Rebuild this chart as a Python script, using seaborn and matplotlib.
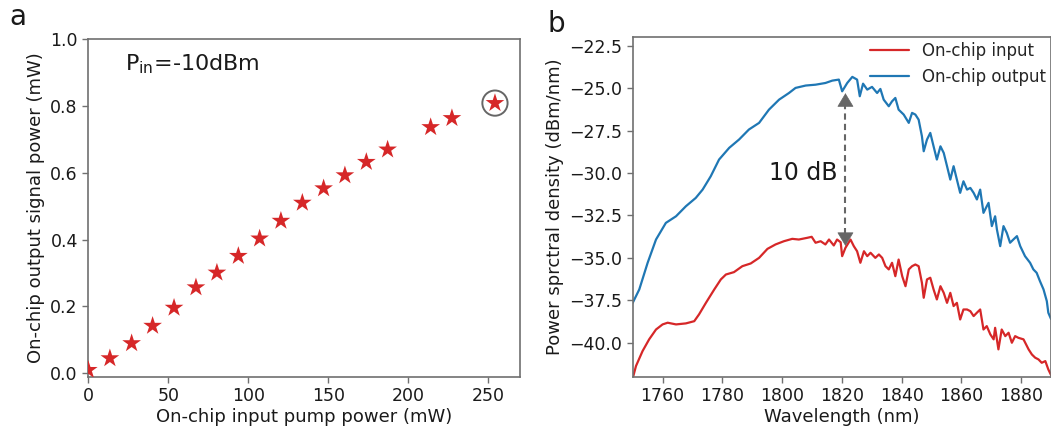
import numpy as np
import pandas as pd
import matplotlib
matplotlib.use("Agg")
import matplotlib.pyplot as plt
import seaborn as sns

# ---------------- Data ----------------
pump_power = [0.0, 13.5, 27.1, 40.2, 53.6, 67.3, 80.4, 93.8, 107.1, 120.4,
              133.8, 147.1, 160.4, 173.8, 187.1, 214.0, 227.3, 254.2]
signal_power = [0.010, 0.045, 0.090, 0.142, 0.196, 0.257, 0.301, 0.351, 0.403, 0.456,
                0.510, 0.553, 0.592, 0.632, 0.669, 0.736, 0.763, 0.808]

wl_out = [1750.0, 1752.2, 1755.0, 1757.8, 1761.1, 1764.5, 1767.8, 1771.1, 1773.4, 1776.1,
          1778.9, 1782.3, 1785.6, 1788.9, 1792.3, 1795.6, 1799.0, 1802.3, 1804.5, 1807.9,
          1811.2, 1814.5, 1816.8, 1819.0, 1820.1, 1821.8, 1823.5, 1825.1, 1826.0, 1827.1,
          1828.5, 1830.1, 1831.8, 1832.9, 1834.0, 1835.7, 1836.8, 1837.9, 1839.0, 1840.7,
          1842.4, 1843.5, 1844.6, 1845.7, 1846.8, 1847.4, 1848.5, 1849.6, 1850.7, 1851.8,
          1853.0, 1854.1, 1855.2, 1856.3, 1857.4, 1858.5, 1859.6, 1860.7, 1861.9, 1863.0,
          1864.1, 1865.2, 1866.3, 1867.4, 1868.5, 1869.1, 1870.2, 1871.3, 1871.9, 1873.0,
          1874.1, 1875.2, 1876.3, 1877.4, 1878.6, 1879.7, 1881.3, 1883.0, 1884.1, 1885.2,
          1886.3, 1887.5, 1888.6, 1889.1, 1890.0]
psd_out = [-37.65, -36.86, -35.29, -33.92, -32.94, -32.55, -31.96, -31.47, -30.98, -30.20,
           -29.21, -28.52, -28.03, -27.44, -27.05, -26.27, -25.68, -25.29, -24.99, -24.85,
           -24.80, -24.70, -24.56, -24.50, -25.19, -24.70, -24.34, -24.50, -25.48, -24.74,
           -25.09, -24.93, -25.29, -25.05, -25.68, -26.07, -25.78, -25.58, -26.27, -26.56,
           -27.05, -26.46, -26.56, -26.86, -27.84, -28.72, -28.03, -27.64, -28.43, -29.21,
           -28.43, -28.82, -29.60, -30.39, -29.60, -30.39, -31.17, -30.49, -30.98, -30.88,
           -31.17, -31.56, -30.98, -32.35, -31.96, -31.76, -33.13, -32.55, -33.33, -34.31,
           -33.13, -33.53, -34.11, -33.92, -33.72, -34.31, -34.90, -35.29, -35.68, -35.88,
           -36.37, -36.86, -37.55, -38.23, -38.60]

wl_in = [1750.0, 1751.1, 1753.3, 1755.5, 1757.8, 1760.0, 1761.7, 1764.5, 1767.8, 1770.6,
         1772.2, 1774.5, 1777.3, 1779.5, 1781.2, 1783.9, 1786.7, 1789.5, 1792.3, 1795.1,
         1797.8, 1800.6, 1803.4, 1805.6, 1808.4, 1809.9, 1811.2, 1812.9, 1814.5, 1815.7,
         1817.3, 1818.4, 1819.6, 1820.1, 1821.2, 1822.9, 1824.0, 1825.1, 1826.2, 1827.4,
         1828.5, 1829.6, 1831.2, 1832.4, 1833.5, 1834.6, 1835.7, 1836.8, 1837.9, 1839.0,
         1840.2, 1841.3, 1842.4, 1843.5, 1844.6, 1845.7, 1846.8, 1847.4, 1848.5, 1849.6,
         1850.7, 1851.8, 1853.0, 1854.1, 1855.2, 1856.3, 1857.4, 1858.5, 1859.6, 1860.7,
         1861.9, 1863.0, 1864.1, 1865.2, 1866.3, 1867.4, 1868.5, 1869.7, 1870.8, 1871.3,
         1872.4, 1873.5, 1874.7, 1875.8, 1876.9, 1878.0, 1879.1, 1880.8, 1882.5, 1883.6,
         1884.7, 1885.8, 1886.9, 1888.1, 1889.1, 1890.0]
psd_in = [-42.10, -41.37, -40.49, -39.80, -39.22, -38.92, -38.82, -38.92, -38.86, -38.73,
          -38.33, -37.65, -36.86, -36.27, -35.98, -35.84, -35.49, -35.33, -35.00, -34.47,
          -34.21, -34.02, -33.88, -33.92, -33.82, -33.76, -34.11, -34.02, -34.21, -33.92,
          -34.27, -33.92, -34.08, -34.90, -34.41, -33.92, -34.31, -34.61, -35.29, -34.61,
          -34.90, -34.70, -35.00, -34.80, -35.00, -35.49, -35.68, -35.29, -36.08, -35.10,
          -36.08, -36.67, -35.68, -35.49, -35.39, -35.49, -36.47, -37.35, -36.27, -36.17,
          -36.86, -37.45, -36.67, -37.06, -37.65, -37.06, -37.84, -37.65, -38.63, -38.04,
          -38.04, -38.14, -38.43, -38.23, -38.04, -39.22, -39.02, -39.51, -39.80, -39.12,
          -40.39, -39.22, -39.61, -39.41, -40.00, -39.61, -39.71, -39.80, -40.39, -40.69,
          -40.88, -40.98, -41.18, -41.08, -41.57, -41.90]

series_labels = ["On-chip input", "On-chip output"]
gain_label = "10 dB"
pin_label = r"P$_{\mathregular{in}}$=-10dBm"

# ---------------- Style ----------------
sns.set_theme(style="ticks")
plt.rcParams["font.family"] = ["DejaVu Sans"]
plt.rcParams["mathtext.default"] = "regular"
plt.rcParams["axes.unicode_minus"] = True
spine_col = "#707070"
plt.rcParams.update({
    "axes.edgecolor": spine_col,
    "axes.linewidth": 1.2,
    "xtick.color": spine_col,
    "ytick.color": spine_col,
    "xtick.labelcolor": "#1a1a1a",
    "ytick.labelcolor": "#1a1a1a",
    "xtick.labelsize": 12.5,
    "ytick.labelsize": 12.5,
    "axes.labelsize": 13,
    "axes.labelcolor": "#1a1a1a",
    "xtick.major.size": 4,
    "ytick.major.size": 4,
    "xtick.major.width": 1.0,
    "ytick.major.width": 1.0,
})

RED = "#d62728"
BLUE = "#1f77b4"

fig = plt.figure(figsize=(10.51, 4.32), dpi=100)
ax1 = fig.add_axes([0.0840, 0.128, 0.411, 0.782])
ax2 = fig.add_axes([0.602, 0.128, 0.398, 0.786])

# ---------------- Panel a ----------------
df_a = pd.DataFrame({"pump": pump_power, "signal": signal_power})
sns.scatterplot(data=df_a, x="pump", y="signal", ax=ax1, marker="*", s=200,
                color=RED, edgecolor="none", linewidth=0, zorder=3, clip_on=True)
ax1.scatter([pump_power[-1]], [signal_power[-1]], s=330, facecolors="none",
            edgecolors="#666666", linewidths=1.4, zorder=4)
ax1.set_xlim(0, 270)
ax1.set_ylim(-0.01, 1.0)
ax1.set_xticks([0, 50, 100, 150, 200, 250])
ax1.set_yticks([0.0, 0.2, 0.4, 0.6, 0.8, 1.0])
ax1.set_xlabel("On-chip input pump power (mW)", labelpad=2)
ax1.set_ylabel("On-chip output signal power (mW)", labelpad=4)
ax1.text(23, 0.923, pin_label, fontsize=16, color="#1a1a1a", va="center", ha="left")
for s in ax1.spines.values():
    s.set_visible(True)

# ---------------- Panel b ----------------
df_b = pd.concat([
    pd.DataFrame({"wl": wl_in, "psd": psd_in, "series": series_labels[0]}),
    pd.DataFrame({"wl": wl_out, "psd": psd_out, "series": series_labels[1]}),
])
sns.lineplot(data=df_b, x="wl", y="psd", hue="series", ax=ax2,
             palette={series_labels[0]: RED, series_labels[1]: BLUE},
             linewidth=1.6, estimator=None, sort=False)
ax2.set_xlim(1750, 1890)
ax2.set_ylim(-42, -22)
ax2.set_xticks([1760, 1780, 1800, 1820, 1840, 1860, 1880])
ax2.set_yticks([-22.5, -25.0, -27.5, -30.0, -32.5, -35.0, -37.5, -40.0])
ax2.set_xlabel("Wavelength (nm)", labelpad=2)
ax2.set_ylabel("Power sprctral density (dBm/nm)", labelpad=4)
for s in ax2.spines.values():
    s.set_visible(True)

leg = ax2.legend(loc="upper right", frameon=False, fontsize=12, handlelength=2.3,
                 borderaxespad=0.1, borderpad=0.2, labelspacing=0.45, handletextpad=0.8)

# double arrow marking the gain
arr_x = 1821.2
top_y, bot_y = -25.3, -34.3
ax2.plot([arr_x, arr_x], [top_y - 0.6, bot_y + 0.6], color="#666666", lw=1.5,
         ls=(0, (3, 2)), zorder=5)
for tip, tail in [(top_y, top_y - 0.7), (bot_y, bot_y + 0.7)]:
    ax2.annotate("", xy=(arr_x, tip), xytext=(arr_x, tail),
                 arrowprops=dict(arrowstyle="-|>,head_length=0.45,head_width=0.27",
                                 color="#666666", lw=0.5, shrinkA=0, shrinkB=0,
                                 mutation_scale=20), zorder=6)
ax2.text(1807.1, -30.0, gain_label, fontsize=17, color="#1a1a1a",
         ha="center", va="center")

# panel letters
fig.text(0.009, 0.942, "a", fontsize=20, color="#1a1a1a", ha="left", va="baseline")
fig.text(0.521, 0.926, "b", fontsize=20, color="#1a1a1a", ha="left", va="baseline")

fig.savefig("out.png", dpi=100)
